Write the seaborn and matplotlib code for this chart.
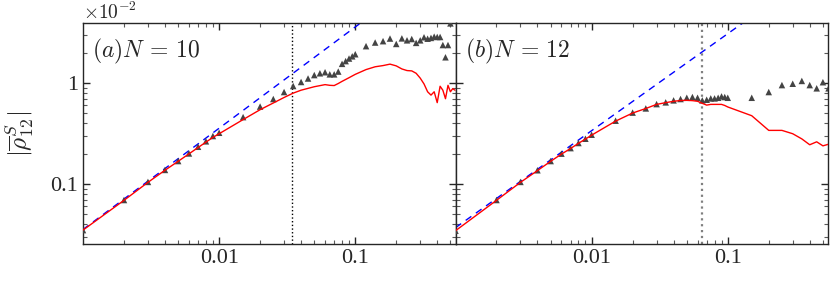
import numpy as np
import pandas as pd
import matplotlib
matplotlib.use('Agg')
import matplotlib.pyplot as plt
import matplotlib.ticker as mticker
import seaborn as sns

# ---- panel (a): N = 10 ----
xa_tri = [0.001, 0.002, 0.003, 0.004, 0.005, 0.006, 0.007, 0.008, 0.009, 0.01,
          0.015, 0.02, 0.025, 0.03, 0.035, 0.04, 0.045, 0.05, 0.055, 0.06, 0.065,
          0.07, 0.075, 0.08, 0.085, 0.09, 0.095, 0.1, 0.12, 0.14, 0.16, 0.18, 0.2,
          0.22, 0.24, 0.26, 0.28, 0.3, 0.32, 0.34, 0.36, 0.38, 0.4, 0.42, 0.44,
          0.46, 0.48, 0.5]
ya_tri = [3.5e-4, 6.95e-4, 1.05e-3, 1.38e-3, 1.69e-3, 2.01e-3, 2.34e-3, 2.65e-3,
          2.99e-3, 3.22e-3, 4.6e-3, 5.85e-3, 6.95e-3, 8.15e-3, 9.35e-3, 1.025e-2,
          1.11e-2, 1.2e-2, 1.25e-2, 1.28e-2, 1.22e-2, 1.22e-2, 1.3e-2, 1.55e-2,
          1.65e-2, 1.75e-2, 1.84e-2, 1.93e-2, 2.32e-2, 2.52e-2, 2.6e-2, 2.76e-2,
          2.44e-2, 2.77e-2, 2.65e-2, 2.73e-2, 2.5e-2, 2.65e-2, 2.84e-2, 2.75e-2,
          2.8e-2, 2.88e-2, 2.86e-2, 2.86e-2, 2.38e-2, 1.8e-2, 2.38e-2, 3.9e-2]
xa_red = [0.001, 0.002, 0.003, 0.004, 0.005, 0.006, 0.007, 0.008, 0.009, 0.01,
          0.015, 0.02, 0.025, 0.03, 0.035, 0.04, 0.05, 0.06, 0.065, 0.07, 0.075,
          0.08, 0.09, 0.1, 0.12, 0.14, 0.16, 0.18, 0.2, 0.22, 0.24, 0.26, 0.28,
          0.3, 0.32, 0.34, 0.36, 0.38, 0.4, 0.42, 0.44, 0.46, 0.48, 0.5, 0.52, 0.54]
ya_red = [3.5e-4, 6.9e-4, 1.04e-3, 1.37e-3, 1.68e-3, 1.99e-3, 2.3e-3, 2.6e-3,
          2.9e-3, 3.15e-3, 4.35e-3, 5.45e-3, 6.35e-3, 7.2e-3, 7.95e-3, 8.5e-3,
          9.2e-3, 9.65e-3, 9.5e-3, 9.45e-3, 9.9e-3, 1.04e-2, 1.13e-2, 1.22e-2,
          1.36e-2, 1.45e-2, 1.49e-2, 1.54e-2, 1.48e-2, 1.38e-2, 1.33e-2, 1.32e-2,
          1.25e-2, 1.12e-2, 9.8e-3, 8.2e-3, 7.6e-3, 8.2e-3, 6.4e-3, 9.3e-3, 8.5e-3,
          7.0e-3, 9.5e-3, 8.2e-3, 8.8e-3, 8.5e-3]
xa_guide = [0.001, 0.2]
ya_guide = [3.55e-4, 0.072]
xa_cut = 0.0344

# ---- panel (b): N = 12 ----
xb_tri = [0.001, 0.002, 0.003, 0.004, 0.005, 0.006, 0.007, 0.008, 0.009, 0.01,
          0.015, 0.02, 0.025, 0.03, 0.035, 0.04, 0.045, 0.05, 0.055, 0.06, 0.065,
          0.07, 0.075, 0.08, 0.085, 0.09, 0.095, 0.1, 0.15, 0.2, 0.25, 0.3, 0.35,
          0.4, 0.45, 0.5, 0.55]
yb_tri = [3.45e-4, 6.95e-4, 1.05e-3, 1.37e-3, 1.69e-3, 2.0e-3, 2.27e-3, 2.55e-3,
          2.81e-3, 3.08e-3, 4.24e-3, 5.1e-3, 5.61e-3, 6.19e-3, 6.44e-3, 6.74e-3,
          6.95e-3, 7.15e-3, 7.27e-3, 7.15e-3, 6.74e-3, 6.84e-3, 7.05e-3, 7.05e-3,
          7.15e-3, 7.38e-3, 7.27e-3, 7.15e-3, 7.15e-3, 8.15e-3, 9.55e-3, 9.85e-3,
          1.05e-2, 9.55e-3, 8.87e-3, 1.02e-2, 8.87e-3]
xb_red = xb_tri
yb_red = [3.45e-4, 6.9e-4, 1.04e-3, 1.36e-3, 1.68e-3, 1.98e-3, 2.25e-3, 2.53e-3,
          2.79e-3, 3.05e-3, 4.2e-3, 5.05e-3, 5.6e-3, 6.15e-3, 6.4e-3, 6.6e-3,
          6.72e-3, 6.75e-3, 6.7e-3, 6.6e-3, 6.3e-3, 6.05e-3, 6.15e-3, 6.15e-3,
          6.15e-3, 6.15e-3, 6.0e-3, 5.8e-3, 4.75e-3, 3.4e-3, 3.4e-3, 3.15e-3,
          2.8e-3, 2.45e-3, 2.62e-3, 2.39e-3, 2.48e-3]
xb_guide = [0.001, 0.2]
yb_guide = [3.7e-4, 0.06]
xb_cut = 0.0644

x_ticks = [0.01, 0.1]
x_ticklabels = ['0.01', '0.1']
y_ticks = [0.001, 0.01]
y_ticklabels = ['0.1', '1']
panel_labels = [r'$(a)N\,=\,10$', r'$(b)N\,=\,12$']

sns.set_style('ticks')
plt.rcParams['font.family'] = ['Liberation Serif', 'DejaVu Serif']
plt.rcParams['mathtext.fontset'] = 'cm'
plt.rcParams['axes.linewidth'] = 1.0

fig, axes = plt.subplots(1, 2, figsize=(8.3, 2.81), dpi=100, sharey=True)
fig.subplots_adjust(left=0.1, right=0.9976, bottom=0.1317, top=0.918, wspace=0)

panels = [
    (xa_tri, ya_tri, xa_red, ya_red, xa_guide, ya_guide, xa_cut, 'black', 1.0),
    (xb_tri, yb_tri, xb_red, yb_red, xb_guide, yb_guide, xb_cut, '0.5', 1.6),
]

for i, (ax, p) in enumerate(zip(axes, panels)):
    xt, yt, xr, yr, xg, yg, xc, cut_col, cut_lw = p
    tri = pd.DataFrame({'x': xt, 'y': yt})
    red = pd.DataFrame({'x': xr, 'y': yr})
    guide = pd.DataFrame({'x': xg, 'y': yg})

    ax.set(xscale='log', yscale='log')
    sns.lineplot(data=guide, x='x', y='y', ax=ax, color='blue', lw=1.0,
                 linestyle=(0, (5, 4)), estimator=None, sort=False)
    ax.axvline(xc, color=cut_col, ls=':', lw=cut_lw)
    sns.scatterplot(data=tri, x='x', y='y', ax=ax, marker='^', color='#444444',
                    s=22, edgecolor='none', zorder=3)
    sns.lineplot(data=red, x='x', y='y', ax=ax, color='red', lw=1.0,
                 estimator=None, sort=False, zorder=4)

    ax.set_xlim(0.001, 0.545)
    ax.set_ylim(0.000255, 0.0393)
    ax.xaxis.set_major_locator(mticker.FixedLocator(x_ticks))
    ax.xaxis.set_major_formatter(mticker.FixedFormatter(x_ticklabels))
    ax.xaxis.set_minor_locator(mticker.LogLocator(base=10, subs=np.arange(2, 10), numticks=20))
    ax.xaxis.set_minor_formatter(mticker.NullFormatter())
    ax.yaxis.set_major_locator(mticker.FixedLocator(y_ticks))
    ax.yaxis.set_major_formatter(mticker.FixedFormatter(y_ticklabels))
    ax.yaxis.set_minor_locator(mticker.LogLocator(base=10, subs=np.arange(2, 10), numticks=20))
    ax.yaxis.set_minor_formatter(mticker.NullFormatter())
    ax.tick_params(which='both', direction='in', top=True, right=True, labelsize=16)
    ax.tick_params(which='major', length=5, width=1)
    ax.tick_params(which='minor', length=3, width=0.8, color='0.35')
    ax.set_xlabel('')
    ax.set_ylabel('')
    ax.text(0.025, 0.87, panel_labels[i], transform=ax.transAxes, fontsize=17,
            ha='left', va='center')
    for s in ax.spines.values():
        s.set_visible(True)

axes[1].tick_params(labelleft=False)
axes[0].set_ylabel(r'$|\overline{\rho}^S_{12}|$', fontsize=18, labelpad=10)
axes[0].text(0.0, 1.0, r'$\times10^{-2}$', transform=axes[0].transAxes,
             fontsize=14, ha='left', va='bottom')

fig.savefig('out.png', dpi=100)
